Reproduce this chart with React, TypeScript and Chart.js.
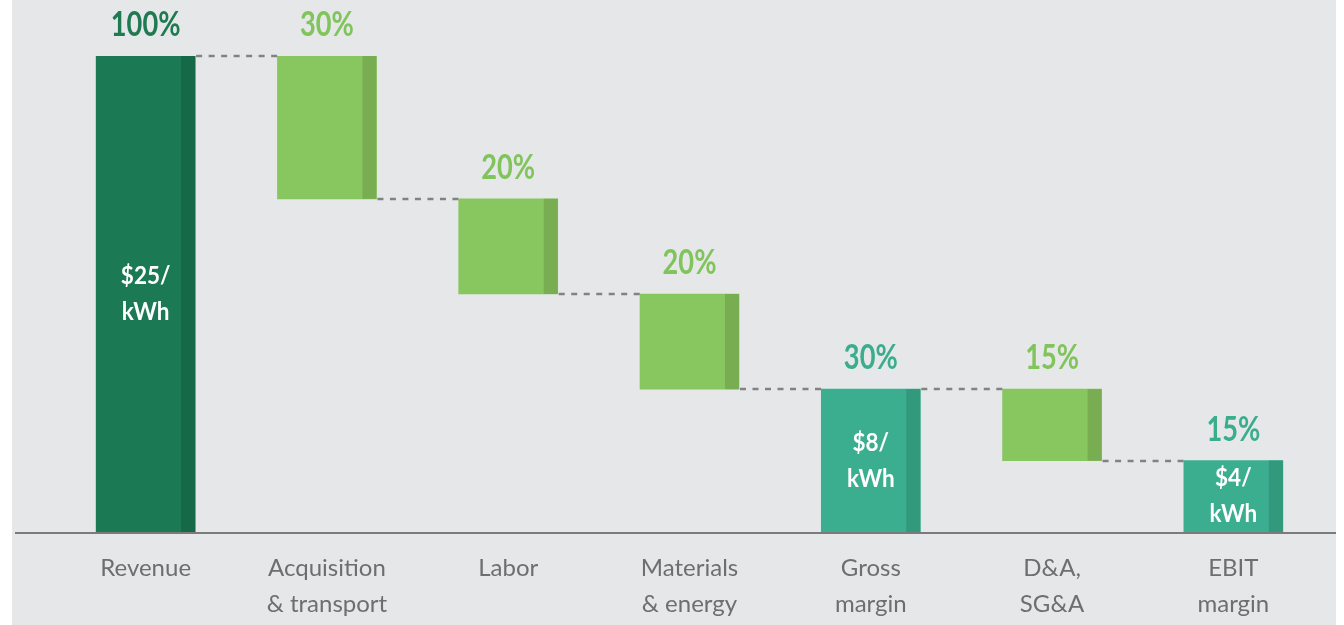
import React, { useEffect, useRef } from "react";
import { Chart, registerables } from "chart.js";

Chart.register(...registerables);

const categories: string[][] = [
  ["Revenue"],
  ["Acquisition", "& transport"],
  ["Labor"],
  ["Materials", "& energy"],
  ["Gross", "margin"],
  ["D&A,", "SG&A"],
  ["EBIT", "margin"],
];
const barStart: number[] = [0, 70, 50, 30, 0, 15, 0];
const barEnd: number[] = [100, 100, 70, 50, 30, 30, 15];
const pctLabels: string[] = ["100%", "30%", "20%", "20%", "30%", "15%", "15%"];
const innerLabels: (string[] | null)[] = [["$25/", "kWh"], null, null, null, ["$8/", "kWh"], null, ["$4/", "kWh"]];
const barKind: string[] = ["revenue", "cost", "cost", "cost", "margin", "cost", "margin"];

const KIND_STYLE: Record<string, { main: string; strip: string; label: string }> = {
  revenue: { main: "#1b7a53", strip: "#166946", label: "#1e7a50" },
  cost: { main: "#88c660", strip: "#78ad52", label: "#80c45c" },
  margin: { main: "#3bae8f", strip: "#33997d", label: "#3aad8d" },
};

const BG = "#e6e7e9";

export default function App() {
  const ref = useRef<HTMLCanvasElement | null>(null);

  useEffect(() => {
    if (!ref.current) return;

    const decor = {
      id: "decor",
      beforeDraw(chart: any) {
        const ctx = chart.ctx;
        ctx.save();
        ctx.fillStyle = "#ffffff";
        ctx.fillRect(0, 0, chart.width, chart.height);
        ctx.fillStyle = BG;
        ctx.fillRect(12, 0, 1324, chart.height);
        ctx.restore();
      },
      afterDatasetsDraw(chart: any) {
        const ctx = chart.ctx;
        const meta = chart.getDatasetMeta(0);
        const yScale = chart.scales.y;
        const stripW = 14;
        ctx.save();
        // darker right strips
        meta.data.forEach((bar: any, i: number) => {
          const p = bar.getProps(["x", "y", "base", "width"], true);
          const top = Math.min(p.y, p.base);
          const h = Math.abs(p.base - p.y);
          ctx.fillStyle = KIND_STYLE[barKind[i]].strip;
          ctx.fillRect(p.x + p.width / 2 - stripW, top, stripW, h);
        });
        // dashed connectors
        ctx.strokeStyle = "#828282";
        ctx.lineWidth = 2.6;
        ctx.setLineDash([6, 6.5]);
        for (let i = 0; i < meta.data.length - 1; i++) {
          const a = meta.data[i].getProps(["x", "width"], true);
          const b = meta.data[i + 1].getProps(["x", "width"], true);
          const yy = Math.round(yScale.getPixelForValue(barEnd[i + 1]));
          ctx.beginPath();
          ctx.moveTo(a.x + a.width / 2 + 1, yy);
          ctx.lineTo(b.x - b.width / 2, yy);
          ctx.stroke();
        }
        ctx.setLineDash([]);
        // axis line
        const baseY = yScale.getPixelForValue(0);
        ctx.strokeStyle = "#7b7b7b";
        ctx.lineWidth = 2;
        ctx.beginPath();
        ctx.moveTo(15, baseY + 1);
        ctx.lineTo(1336, baseY + 1);
        ctx.stroke();
        // labels
        ctx.textAlign = "center";
        ctx.textBaseline = "middle";
        meta.data.forEach((bar: any, i: number) => {
          const p = bar.getProps(["x", "y", "base", "width"], true);
          const top = Math.min(p.y, p.base);
          const bottom = Math.max(p.y, p.base);
          // percent label
          ctx.save();
          ctx.translate(p.x, top - 31);
          ctx.scale(0.8, 1);
          ctx.font = "bold 34px Lato";
          ctx.fillStyle = KIND_STYLE[barKind[i]].label;
          ctx.fillText(pctLabels[i], 0, 0);
          ctx.restore();
          const inner = innerLabels[i];
          if (inner) {
            const cy = (top + bottom) / 2;
            const lh = 36;
            inner.forEach((t, k) => {
              ctx.save();
              ctx.translate(p.x, cy + (k - (inner.length - 1) / 2) * lh);
              ctx.scale(0.9, 1);
              ctx.font = "bold 25px Lato";
              ctx.fillStyle = "#ffffff";
              ctx.fillText(t, 0, 0);
              ctx.restore();
            });
          }
        });
        ctx.restore();
      },
    };

    const chart = new Chart(ref.current, {
      type: "bar",
      data: {
        labels: categories,
        datasets: [
          {
            data: barStart.map((s, i) => [s, barEnd[i]]),
            backgroundColor: barKind.map((k) => KIND_STYLE[k].main),
            borderWidth: 0,
            barThickness: 99,
          } as any,
        ],
      },
      options: {
        animation: false,
        responsive: false,
        layout: { padding: { top: 56, left: 55, right: 20, bottom: 0 } },
        plugins: { legend: { display: false }, tooltip: { enabled: false } },
        scales: {
          x: {
            grid: { display: false, drawTicks: false },
            border: { display: false },
            ticks: {
              autoSkip: false,
              maxRotation: 0,
              padding: 18,
              color: "#6e6e6e",
              font: { family: "Lato", size: 24, lineHeight: 1.5 },
            },
          },
          y: {
            display: false,
            min: 0,
            max: 100,
          },
        },
      },
      plugins: [decor],
    });
    return () => chart.destroy();
  }, []);

  return (
    <div
      style={{
        position: "fixed",
        left: 0,
        top: 0,
        width: 1344,
        height: 625,
        overflow: "hidden",
        background: "#ffffff",
      }}
    >
      <canvas ref={ref} width={1344} height={640} style={{ display: "block" }} />
    </div>
  );
}
